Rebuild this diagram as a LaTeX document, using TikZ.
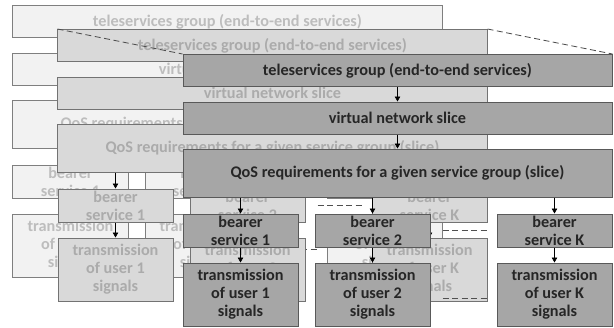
\documentclass[tikz,border=0pt]{standalone}
\usepackage{fontspec}
\setmainfont{Carlito}
\usetikzlibrary{arrows.meta}

\definecolor{fillA}{HTML}{F2F2F2}
\definecolor{textA}{HTML}{BDBDBD}
\definecolor{lineA}{HTML}{7F7F7F}
\definecolor{fillB}{HTML}{D9D9D9}
\definecolor{textB}{HTML}{ABABAB}
\definecolor{lineB}{HTML}{737373}
\definecolor{fillC}{HTML}{A6A6A6}
\definecolor{textC}{HTML}{262626}
\definecolor{lineC}{HTML}{595959}
\definecolor{dashgray}{HTML}{505050}

\tikzset{
  slicebox/.style={rectangle, draw, line width=1bp, inner sep=0pt, align=center,
    font=\fontsize{16.3}{18}\selectfont\bfseries},
  widebox/.style={slicebox, minimum width=429bp, minimum height=32bp},
  qosbox/.style={slicebox, minimum width=429bp, minimum height=48bp},
  bearerbox/.style={slicebox, minimum width=115bp, minimum height=33bp},
  userbox/.style={slicebox, minimum width=115bp, minimum height=63bp},
  flow/.style={-{Triangle[length=5bp,width=5.5bp]}, line width=0.6bp, black},
  skip/.style={dash pattern=on 6bp off 3.5bp, line width=0.8bp, dashgray,
    shorten <=12bp, shorten >=7bp},
  persp/.style={dash pattern=on 6bp off 3.5bp, line width=0.8bp, dashgray}
}

\begin{document}
\begin{tikzpicture}[x=1bp,y=-1bp]
  \useasboundingbox (0,0) rectangle (614,327);

  % three copies of the slice, back to front
  \foreach \l/\dx/\dy in {A/-170/-49, B/-125/-25, C/0/0}{
    \begin{scope}[shift={(\dx,\dy)},
        every node/.append style={fill=fill\l, draw=line\l, text=text\l}]
      % upper part
      \node[widebox] (tele\l) at (397.5,70.5) {teleservices group (end-to-end services)};
      \node[widebox] (slice\l) at (397.5,118) {virtual network slice};
      \node[qosbox] (qos\l) at (397.5,173) {QoS requirements for a given service group (slice)};

      % bearers
      \node[bearerbox] (bs1\l) at (240.5,230.5) {bearer\\service 1};
      \node[bearerbox] (bs2\l) at (372.5,230.5) {bearer\\service 2};
      \node[bearerbox] (bsK\l) at (554.5,230.5) {bearer\\service K};

      % user signals
      \node[userbox] (tr1\l) at (240.5,294.5) {transmission\\of user 1\\signals};
      \node[userbox] (tr2\l) at (372.5,294.5) {transmission\\of user 2\\signals};
      \node[userbox] (trK\l) at (554.5,294.5) {transmission\\of user K\\signals};

      % arrows
      \draw[flow] (tele\l) -- (slice\l);
      \draw[flow] (slice\l) -- (qos\l);
      \draw[flow] (qos\l.south -| bs1\l) -- (bs1\l);
      \draw[flow] (qos\l.south -| bs2\l) -- (bs2\l);
      \draw[flow] (qos\l.south -| bsK\l) -- (bsK\l);
      \draw[flow] (bs1\l) -- (tr1\l);
      \draw[flow] (bs2\l) -- (tr2\l);
      \draw[flow] (bsK\l) -- (trK\l);

      % users 3 .. K-1
      \draw[skip] (bs2\l) -- (bsK\l);
      \draw[skip] ([yshift=-4bp]tr2\l.east) -- ([yshift=-4bp]trK\l.west);
    \end{scope}
  }

  % depth lines
  \draw[persp] (teleB.north west) -- (teleC.north west);
  \draw[persp] (teleB.north east) -- (teleC.north east);
\end{tikzpicture}
\end{document}
